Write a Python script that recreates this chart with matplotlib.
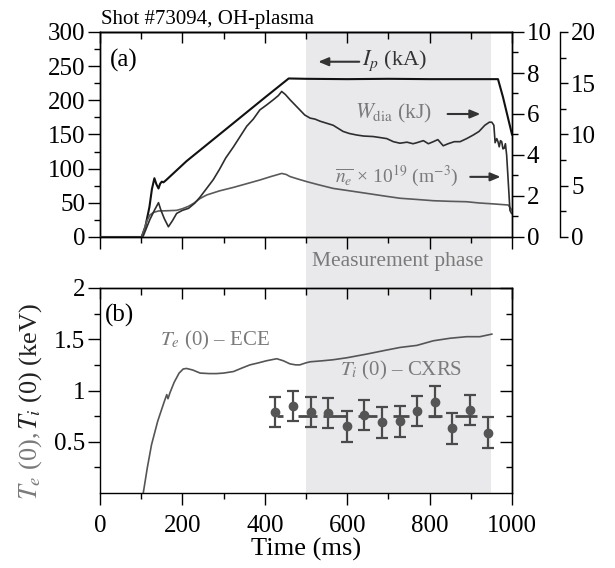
import matplotlib
matplotlib.use('Agg')
import matplotlib.pyplot as plt
from matplotlib.ticker import MultipleLocator, FixedLocator, FuncFormatter

plt.rcParams['font.family'] = ['Liberation Serif', 'DejaVu Serif']
plt.rcParams['mathtext.fontset'] = 'stix'

# ---------------- data ----------------
ip_t = [0, 101, 110, 120, 126, 132, 137, 142, 146, 150, 154, 160, 210, 300, 400, 458,
        500, 600, 700, 800, 900, 966, 978, 1000]
ip_v = [0, 0, 15, 44, 70, 86, 77, 71, 78, 81, 80, 83, 111, 155, 204, 232,
        231.5, 231, 231.5, 231, 231, 231, 205, 150]

wdia_t = [0, 104, 112, 121, 132, 142, 148, 156, 166, 176, 186, 200, 215, 230, 243, 260, 275,
          290, 305, 324, 340, 356, 372, 388, 405, 421, 433, 441, 450, 461, 473, 485, 497, 510,
          522, 534, 550, 566, 578, 590, 605, 623, 640, 663, 680, 696, 712, 728, 745, 760, 769,
          785, 797, 809, 820, 833, 845, 860, 874, 890, 906, 920, 934, 945, 951, 956, 959, 963,
          966, 969, 972, 975, 978, 981, 984, 987, 990, 995, 999]
wdia_v = [0, 0, 0.8, 1.7, 2.6, 3.35, 2.6, 1.8, 1.0, 1.6, 2.3, 2.6, 2.8, 3.3, 3.9, 4.8, 5.6,
          6.6, 7.7, 8.8, 9.8, 10.8, 11.5, 12.4, 12.9, 13.4, 13.8, 14.2, 13.9, 13.4, 12.9, 12.4,
          11.9, 11.6, 11.5, 11.3, 11.1, 10.9, 10.6, 10.3, 10.1, 9.95, 9.85, 9.8, 9.7, 9.6, 9.3,
          9.15, 9.25, 9.1, 9.2, 9.4, 9.1, 9.3, 9.5, 8.9, 9.1, 9.3, 9.3, 9.6, 9.95, 10.3, 10.9,
          11.2, 11.2, 10.9, 9.2, 9.6, 9.3, 8.8, 9.4, 9.3, 8.6, 8.65, 9.1, 8.0, 6.0, 2.6, 2.3]

ne_t = [0, 101, 108, 113, 121, 130, 142, 162, 186, 200, 215, 227, 243, 259, 290, 324, 356,
        388, 415, 441, 452, 461, 480, 502, 530, 566, 600, 647, 690, 728, 770, 809, 850, 890,
        920, 951, 991, 1000]
ne_v = [0, 0, 0.4, 0.75, 1.07, 1.2, 1.27, 1.28, 1.30, 1.38, 1.5, 1.64, 1.88, 2.05, 2.25,
        2.42, 2.6, 2.78, 2.95, 3.1, 3.05, 2.95, 2.83, 2.7, 2.55, 2.37, 2.27, 2.13, 2.0, 1.89,
        1.83, 1.77, 1.74, 1.72, 1.66, 1.62, 1.56, 1.3]

te_t = [105, 115, 125, 140, 155, 162, 165, 170, 180, 192, 202, 210, 225, 243, 265, 283, 300,
        324, 345, 364, 385, 404, 429, 445, 461, 475, 485, 500, 510, 540, 566, 600, 647, 690,
        728, 769, 809, 850, 890, 922, 951]
te_v = [0, 0.25, 0.47, 0.7, 0.88, 0.96, 0.92, 0.98, 1.08, 1.17, 1.21, 1.215, 1.2, 1.17, 1.165,
        1.165, 1.17, 1.185, 1.22, 1.25, 1.27, 1.29, 1.31, 1.29, 1.26, 1.25, 1.25, 1.27, 1.28,
        1.29, 1.30, 1.32, 1.355, 1.39, 1.42, 1.44, 1.485, 1.51, 1.525, 1.525, 1.55]

ti_t = [425, 469, 511, 554, 599, 641, 684, 728, 770, 813, 855, 898, 941]
ti_v = [0.79, 0.85, 0.79, 0.78, 0.65, 0.76, 0.69, 0.70, 0.80, 0.89, 0.63, 0.81, 0.59]
ti_err = [0.15] * 13
ti_win_start = [429, 481, 542, 626, 710, 797, 862]
ti_win_end = [444, 526, 597, 672, 750, 830, 915]
ti_win_level = 0.75

meas_start, meas_end = 500, 950

# ---------------- layout ----------------
W, H = 615, 568
fig = plt.figure(figsize=(W / 100, H / 100), dpi=100)


def fx(px):
    return px / W


def fy(py):
    return 1 - py / H


L, R = 100, 512
A_TOP, A_BOT = 32, 237
B_TOP, B_BOT = 288, 493

GRAY_TXT = '#7a7a7a'
SHADE = '#e9e9ec'

bg = fig.add_axes([fx(L), fy(B_BOT), (R - L) / W, (B_BOT - A_TOP) / H], zorder=-1)
bg.set_xlim(0, 1000)
bg.set_ylim(0, 1)
bg.axis('off')
bg.axvspan(meas_start, meas_end, color=SHADE, lw=0)

MAJ, MIN = 8.5, 4.0
TW = 1.0
ARROW = dict(arrowstyle='-|>,head_length=0.6,head_width=0.25', color='#333333', lw=1.5)

# ---------- panel (a) ----------
ax1 = fig.add_axes([fx(L), fy(A_BOT), (R - L) / W, (A_BOT - A_TOP) / H])
ax1.patch.set_visible(False)
ax1.set_xlim(0, 1000)
ax1.set_ylim(0, 300)
ax1.xaxis.set_major_locator(MultipleLocator(200))
ax1.xaxis.set_minor_locator(MultipleLocator(100))
ax1.yaxis.set_major_locator(MultipleLocator(50))
ax1.yaxis.set_minor_locator(MultipleLocator(25))
ax1.tick_params(axis='both', which='major', direction='out', length=MAJ, width=TW,
                labelsize=18, pad=2)
ax1.tick_params(axis='both', which='minor', direction='out', length=MIN, width=TW)
ax1.tick_params(axis='x', labelbottom=False)
ax1.tick_params(axis='y', right=False)
for s in ax1.spines.values():
    s.set_linewidth(TW)
sec1 = ax1.secondary_xaxis('top')
sec1.xaxis.set_major_locator(MultipleLocator(200))
sec1.xaxis.set_minor_locator(MultipleLocator(100))
sec1.tick_params(which='major', direction='in', length=MAJ * 0.9, width=TW, labeltop=False)
sec1.tick_params(which='minor', direction='in', length=MIN * 1.2, width=TW)
sec1.spines['top'].set_linewidth(TW)

ax1.plot(ip_t, ip_v, color='#111111', lw=1.5, zorder=3)

ax1r = ax1.twinx()
ax1r.set_ylim(0, 10)
ax1r.yaxis.set_major_locator(MultipleLocator(2))
ax1r.yaxis.set_minor_locator(MultipleLocator(1))
ax1r.tick_params(which='major', direction='out', length=MAJ, width=TW, labelsize=18, pad=2)
ax1r.tick_params(which='minor', direction='out', length=MIN, width=TW)
for s in ax1r.spines.values():
    s.set_linewidth(TW)
ax1r.plot(ne_t, ne_v, color='#5a5a5a', lw=1.2)

ax1r2 = ax1.twinx()
ax1r2.spines['right'].set_position(('axes', (560 - L) / (R - L)))
for side in ('top', 'left', 'bottom'):
    ax1r2.spines[side].set_visible(False)
ax1r2.spines['right'].set_linewidth(TW)
ax1r2.set_ylim(0, 20)
ax1r2.yaxis.set_major_locator(MultipleLocator(5))
ax1r2.yaxis.set_minor_locator(MultipleLocator(2.5))
ax1r2.tick_params(which='major', direction='out', length=6, width=TW, labelsize=18, pad=2)
ax1r2.tick_params(which='minor', direction='out', length=4, width=TW)
ax1r2.plot(wdia_t, wdia_v, color='#2e2e2e', lw=1.2)

# annotations panel (a)
ax1.text(0.024, 0.863, '(a)', transform=ax1.transAxes, fontsize=18, va='center', ha='left')
ax1.annotate('', xy=(523, 256.5), xytext=(636, 256.5), arrowprops=ARROW)
ax1.text(636, 258, r'$I_p$ (kA)', fontsize=16, color='#333333', va='center', ha='left')
ax1.text(619, 181, r'$W_{\rm dia}$ (kJ)', fontsize=15.5, color=GRAY_TXT, va='center', ha='left')
ax1.annotate('', xy=(930, 180), xytext=(837, 180), arrowprops=ARROW)
ax1.text(570, 89, r'$\overline{n_e}$ × 10$^{19}$ (m$^{-3}$)', fontsize=14,
         color=GRAY_TXT, va='center', ha='left')
ax1.annotate('', xy=(979, 88), xytext=(892, 88), arrowprops=ARROW)

fig.text(fx(101), fy(24), 'Shot #73094, OH-plasma', fontsize=15, va='baseline', ha='left')
fig.text(fx(398), fy(262), 'Measurement phase', fontsize=15.5, color=GRAY_TXT,
         va='center', ha='center')

# ---------- panel (b) ----------
ax2 = fig.add_axes([fx(L), fy(B_BOT), (R - L) / W, (B_BOT - B_TOP) / H])
ax2.patch.set_visible(False)
ax2.set_xlim(0, 1000)
ax2.set_ylim(0, 2)
ax2.xaxis.set_major_locator(MultipleLocator(200))
ax2.xaxis.set_minor_locator(MultipleLocator(100))
ax2.yaxis.set_major_locator(FixedLocator([0.5, 1, 1.5, 2]))
ax2.yaxis.set_minor_locator(FixedLocator([0.25, 0.75, 1.25, 1.75]))
ax2.yaxis.set_major_formatter(FuncFormatter(lambda v, p: '%g' % v))
ax2.tick_params(axis='both', which='major', direction='out', length=MAJ, width=TW,
                labelsize=18, pad=2)
ax2.tick_params(axis='x', pad=7)
ax2.tick_params(axis='both', which='minor', direction='out', length=MIN, width=TW)
for s in ax2.spines.values():
    s.set_linewidth(TW)
sec2 = ax2.secondary_xaxis('top')
sec2.xaxis.set_major_locator(MultipleLocator(200))
sec2.xaxis.set_minor_locator(MultipleLocator(100))
sec2.tick_params(which='major', direction='in', length=MAJ * 0.9, width=TW, labeltop=False)
sec2.tick_params(which='minor', direction='in', length=MIN * 1.2, width=TW)
sec2.spines['top'].set_linewidth(TW)
sec2r = ax2.secondary_yaxis('right')
sec2r.yaxis.set_major_locator(FixedLocator([0.5, 1, 1.5, 2]))
sec2r.yaxis.set_minor_locator(FixedLocator([0.25, 0.75, 1.25, 1.75]))
sec2r.tick_params(which='major', direction='in', length=MAJ, width=TW, labelright=False)
sec2r.tick_params(which='minor', direction='in', length=MIN, width=TW)
sec2r.spines['right'].set_linewidth(TW)

ax2.plot(te_t, te_v, color='#555555', lw=1.2)
ax2.hlines([ti_win_level] * len(ti_win_start), ti_win_start, ti_win_end,
           color='#4a4a4a', lw=2.0)
ax2.errorbar(ti_t, ti_v, yerr=ti_err, fmt='o', color='#555555', ecolor='#4a4a4a',
             markersize=6, elinewidth=1.6, capsize=4, capthick=1.6)

ax2.text(0.012, 0.868, '(b)', transform=ax2.transAxes, fontsize=18, va='center', ha='left')
ax2.text(146, 1.49, r'$T_e$ (0) – ECE', fontsize=15, color=GRAY_TXT, va='center', ha='left')
ax2.text(583, 1.20, r'$T_i$ (0) – CXRS', fontsize=15, color=GRAY_TXT, va='center', ha='left')
ax2.set_xlabel('Time (ms)', fontsize=19, labelpad=1)

# two-colour y label
t1 = fig.text(fx(31), fy(500), r'$T_e$ (0), ', fontsize=19, color=GRAY_TXT,
              rotation=90, ha='center', va='bottom')
renderer = fig.canvas.get_renderer()
bb = t1.get_window_extent(renderer)
fig.text(fx(31), bb.y1 / fig.bbox.height, r'$T_i$ (0) (keV)', fontsize=19, color='#222222',
         rotation=90, ha='center', va='bottom')

fig.savefig('out.png', dpi=100)
